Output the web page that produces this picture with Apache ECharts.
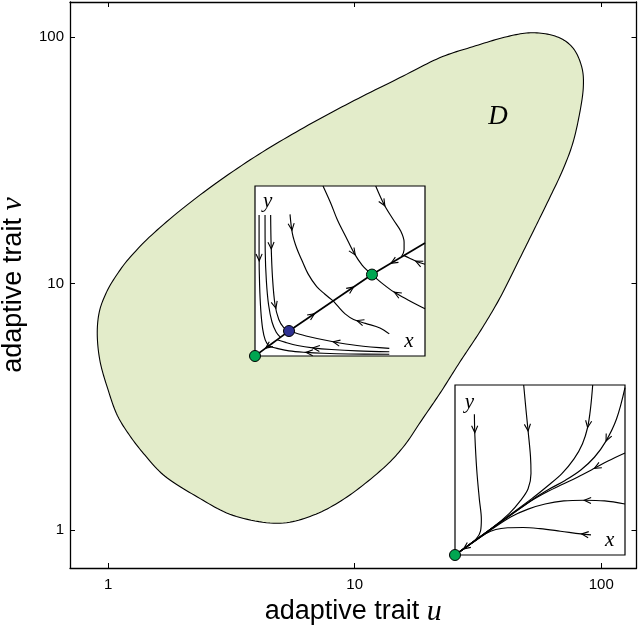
<!DOCTYPE html>
<html><head><meta charset="utf-8">
<script src="https://cdn.jsdelivr.net/npm/echarts@6/dist/echarts.min.js"></script>
<style>html,body{margin:0;padding:0;background:#fff}#c{width:644px;height:627px}</style>
</head><body><div id="c"></div>
<script>
// ---- main plot: region D in (u, v) trait space ----
const axisMin = 0.7, axisMax = 139;
const blobU = [52.7,66.0,76.7,83.3,84.6,81.8,76.7,69.8,61.8,53.8,45.9,38.8,32.5,26.7,22.2,18.7,15.8,12.9,9.30,6.77,4.84,3.21,2.30,1.70,1.41,1.228,1.088,1.0,0.928,0.903,0.920,0.981,1.067,1.228,1.58,2.36,3.77,6.0,9.56,15.2,22.1,30.1,41.4];
const blobV = [104.3,100.5,90.6,75.9,62.9,49.3,37.2,28.9,22.3,16.8,12.2,8.73,6.47,4.80,3.59,2.79,2.18,1.76,1.36,1.145,1.063,1.145,1.36,1.65,2.01,2.40,2.92,3.69,4.80,6.18,7.66,9.15,10.6,12.8,16.5,22.9,31.8,42.1,54.2,68.4,82.5,91.5,100.5];
const labelD = [38.1, 47.5];

// ---- inset A (phase portrait inside D), normalised x,y ----
const aDiagLow  = [[0.2,0.147],[0.1,0.0735],[0,0]];
const aDiagMid  = [[0.2,0.147],[0.688,0.479]];
const aDiagHigh = [[1.0,0.665],[0.688,0.479]];
const aTop1 = [[0.024,0.83],[0.024,0.6],[0.027,0.42],[0.034,0.27],[0.045,0.16],[0.06,0.095],[0.08,0.06]];
const aTop2 = [[0.059,0.83],[0.06,0.62],[0.067,0.44],[0.08,0.3],[0.1,0.2],[0.125,0.14],[0.15,0.11]];
const aTop3 = [[0.092,0.83],[0.095,0.65],[0.103,0.46],[0.118,0.3],[0.14,0.215],[0.168,0.168],[0.2,0.147]];
const aTop4 = [[0.206,0.833],[0.22,0.72],[0.245,0.635],[0.275,0.565],[0.314,0.48],[0.363,0.408],[0.41,0.365],[0.46,0.324]];
const aMidR = [[0.79,0.13],[0.735,0.165],[0.65,0.192],[0.58,0.215],[0.53,0.248],[0.49,0.29],[0.46,0.324]];
const aTop5 = [[0.40,1.0],[0.445,0.9],[0.485,0.8],[0.535,0.7],[0.583,0.605],[0.63,0.535],[0.688,0.479]];
const aTop6 = [[0.71,1.0],[0.76,0.89],[0.815,0.8],[0.857,0.735],[0.877,0.67],[0.877,0.625],[0.862,0.585]];
const aRight1 = [[1.0,0.54],[0.95,0.556],[0.91,0.575],[0.875,0.592]];
const aRight2 = [[1.0,0.278],[0.9,0.33],[0.818,0.376],[0.75,0.426],[0.688,0.479]];
const aBot1 = [[0.79,0.045],[0.6,0.062],[0.46,0.084],[0.3,0.118],[0.2,0.147]];
const aBot2 = [[0.79,0.025],[0.6,0.03],[0.45,0.038],[0.34,0.048],[0.25,0.062],[0.18,0.08],[0.13,0.096]];
const aBot3 = [[0.79,0.01],[0.55,0.012],[0.4,0.016],[0.3,0.021],[0.2,0.03],[0.13,0.045],[0.08,0.059]];
const aCurves = [aDiagLow,aDiagMid,aDiagHigh,aTop1,aTop2,aTop3,aTop4,aMidR,aTop5,aTop6,aRight1,aRight2,aBot1,aBot2,aBot3];
const aThick = [true,true,true];
// arrows: [x, y, curve index]
const aArrows = [[0.062,0.046,0],[0.35,0.249,1],[0.58,0.405,1],[0.8,0.546,2],[0.024,0.56,3],[0.097,0.63,5],[0.12,0.28,5],
  [0.218,0.74,6],[0.6,0.208,7],[0.59,0.595,8],[0.765,0.884,9],[0.945,0.557,10],[0.82,0.375,11],[0.46,0.085,12],[0.34,0.048,13],[0.3,0.021,14]];
const aStable = [[0,0],[0.688,0.479]];
const aSaddle = [[0.2,0.147]];
const aText = [[0.075,0.91],[0.905,0.085]];
const aTextLabels = ['y','x'];

// ---- inset B (phase portrait outside D) ----
const bC1 = [[0.114,0.828],[0.117,0.7],[0.128,0.5],[0.143,0.33],[0.155,0.21],[0.15,0.14],[0.125,0.095],[0.07,0.05],[0,0]];
const bC2 = [[0.404,1.0],[0.418,0.85],[0.431,0.72],[0.444,0.58],[0.447,0.48],[0.43,0.39],[0.385,0.32],[0.32,0.245],[0.22,0.16],[0,0]];
const bC3 = [[0.81,1.0],[0.797,0.86],[0.78,0.75],[0.75,0.655],[0.7,0.565],[0.63,0.48],[0.55,0.41],[0.45,0.33],[0,0]];
const bC4 = [[1.0,0.985],[0.95,0.8],[0.888,0.67],[0.82,0.575],[0.74,0.5],[0.65,0.44],[0.55,0.385],[0.45,0.322],[0,0]];
const bC5 = [[1.0,0.6],[0.9,0.553],[0.82,0.51],[0.72,0.458],[0.62,0.41],[0.52,0.36],[0.42,0.3],[0,0]];
const bC6 = [[1.0,0.3],[0.88,0.318],[0.76,0.322],[0.64,0.318],[0.53,0.3],[0.43,0.27],[0.33,0.225],[0.2,0.14],[0,0]];
const bC7 = [[0.8,0.118],[0.74,0.124],[0.62,0.14],[0.5,0.155],[0.4,0.162],[0.31,0.16],[0.24,0.15],[0.18,0.125],[0.1,0.07],[0,0]];
const bCurves = [bC1,bC2,bC3,bC4,bC5,bC6,bC7];
const bArrows = [[0.116,0.72,0],[0.43,0.73,1],[0.78,0.75,2],[0.89,0.67,3],[0.82,0.51,4],[0.76,0.322,5],[0.745,0.124,6],[0.05,0.036,3]];
const bStable = [[0,0]];
const bText = [[0.085,0.895],[0.91,0.085]];
const bTextLabels = ['y','x'];

const GREEN = '#00a651', BLUE = '#2e3192', FILL = '#e3ecca';
const serifItalic = 'italic 21px "Liberation Serif", serif';
const A = 2, B = 3; // axis indices of the two insets

function mainAxis(pos, labels) {
  return {
    type: 'log', logBase: 10, min: axisMin, max: axisMax, gridIndex: 0, position: pos,
    axisLine: { show: true, lineStyle: { color: '#000', width: 1.3 } },
    axisTick: { show: true, inside: true, length: 5, lineStyle: { color: '#000', width: 1 } },
    axisLabel: { show: labels, color: '#000', fontSize: 15, fontFamily: '"Liberation Sans", Arial, sans-serif',
      showMinLabel: false, showMaxLabel: false, margin: pos === 'bottom' ? 9 : 6 },
    splitLine: { show: false }, minorTick: { show: false }, minorSplitLine: { show: false }
  };
}
function insetAxis(g) {
  return { type: 'value', min: 0, max: 1, gridIndex: g, show: false };
}
const nameRich = {
  a: { fontFamily: '"Liberation Sans", Arial, sans-serif', fontSize: 27, color: '#000' },
  b: { fontFamily: '"Liberation Serif", serif', fontStyle: 'italic', fontSize: 30, color: '#000' }
};

// closed Catmull-Rom through pixel points (drawing helper only)
function closedSpline(pts, seg) {
  const n = pts.length, out = [];
  for (let i = 0; i < n; i++) {
    const p0 = pts[(i - 1 + n) % n], p1 = pts[i], p2 = pts[(i + 1) % n], p3 = pts[(i + 2) % n];
    for (let k = 0; k < seg; k++) {
      const t = k / seg, t2 = t * t, t3 = t2 * t;
      const f = j => 0.5 * (2 * p1[j] + (-p0[j] + p2[j]) * t + (2 * p0[j] - 5 * p1[j] + 4 * p2[j] - p3[j]) * t2 + (-p0[j] + 3 * p1[j] - 3 * p2[j] + p3[j]) * t3);
      out.push([f(0), f(1)]);
    }
  }
  return out;
}

function arrowRender(curves) {
  return function (params, api) {
    const x = api.value(0), y = api.value(1), ci = api.value(2);
    const pts = curves[ci].map(p => api.coord(p));
    const t = api.coord([x, y]);
    let best = null, bd = Infinity;
    for (let i = 0; i < pts.length - 1; i++) {
      const a = pts[i], b = pts[i + 1];
      const dx = b[0] - a[0], dy = b[1] - a[1];
      const L2 = dx * dx + dy * dy; if (!L2) continue;
      let s = ((t[0] - a[0]) * dx + (t[1] - a[1]) * dy) / L2;
      s = Math.max(0, Math.min(1, s));
      const px = a[0] + s * dx, py = a[1] + s * dy;
      const d = (px - t[0]) ** 2 + (py - t[1]) ** 2;
      if (d < bd) { bd = d; const n = Math.sqrt(L2); best = { px, py, ux: dx / n, uy: dy / n }; }
    }
    const L = 7.5, ang = 0.42, c = Math.cos(ang), s = Math.sin(ang);
    const bx = -best.ux, by = -best.uy, px = best.px, py = best.py;
    const l1 = [px + L * (bx * c - by * s), py + L * (bx * s + by * c)];
    const l2 = [px + L * (bx * c + by * s), py + L * (-bx * s + by * c)];
    return { type: 'polyline', shape: { points: [l1, [px, py], l2] },
      style: { stroke: '#000', lineWidth: 1.1, fill: null } };
  };
}
function textRender(labels, font) {
  return function (params, api) {
    const p = api.coord([api.value(0), api.value(1)]);
    return { type: 'text', x: p[0], y: p[1],
      style: { text: labels[params.dataIndex], font: font, fill: '#000', align: 'center', verticalAlign: 'middle' } };
  };
}
function curveSeries(curves, idx, thickFlags) {
  return curves.map((c, i) => ({
    type: 'line', xAxisIndex: idx, yAxisIndex: idx, data: c, smooth: 0.35, showSymbol: false, symbol: 'none',
    clip: false, z: 5, silent: true,
    lineStyle: { color: '#000', width: thickFlags && thickFlags[i] ? 1.7 : 1.15 }
  }));
}
function dotSeries(data, idx, color) {
  return { type: 'scatter', xAxisIndex: idx, yAxisIndex: idx, data: data, symbolSize: 11, clip: false, z: 7,
    itemStyle: { color: color, borderColor: '#000', borderWidth: 1, opacity: 1 } };
}

const option = {
  animation: false,
  backgroundColor: '#fff',
  grid: [
    { left: 70, right: 7.5, top: 2, bottom: 59, outerBoundsMode: 'none', containLabel: false },
    { left: 255, top: 186, width: 170, height: 170, show: true, backgroundColor: '#fff', borderColor: '#000', borderWidth: 1.2, z: 3, outerBoundsMode: 'none' },
    { left: 455, top: 385, width: 170, height: 170, show: true, backgroundColor: '#fff', borderColor: '#000', borderWidth: 1.2, z: 3, outerBoundsMode: 'none' }
  ],
  xAxis: [
    Object.assign(mainAxis('bottom', true), { name: '{a|adaptive trait }{b|u}', nameLocation: 'middle', nameGap: 23, nameTextStyle: { rich: nameRich } }),
    mainAxis('top', false),
    insetAxis(1), insetAxis(2)
  ],
  yAxis: [
    Object.assign(mainAxis('left', true), { name: '{a|adaptive trait }{b|v}', nameLocation: 'middle', nameGap: 37, nameTextStyle: { rich: nameRich } }),
    mainAxis('right', false),
    insetAxis(1), insetAxis(2)
  ],
  series: [
    { type: 'custom', xAxisIndex: 0, yAxisIndex: 0, z: 1, silent: true, data: [[blobU[0], blobV[0]]],
      renderItem: function (params, api) {
        const pts = blobU.map((u, i) => api.coord([u, blobV[i]]));
        return { type: 'polygon', shape: { points: closedSpline(pts, 12) }, style: { fill: FILL, stroke: '#000', lineWidth: 1.1 } };
      } },
    { type: 'custom', xAxisIndex: 0, yAxisIndex: 0, z: 2, silent: true, data: [labelD],
      renderItem: textRender(['D'], 'italic 27px "Liberation Serif", serif') },
    ...curveSeries(aCurves, A, aThick),
    { type: 'custom', xAxisIndex: A, yAxisIndex: A, z: 6, silent: true, data: aArrows, renderItem: arrowRender(aCurves) },
    dotSeries(aStable, A, GREEN), dotSeries(aSaddle, A, BLUE),
    { type: 'custom', xAxisIndex: A, yAxisIndex: A, z: 6, silent: true, data: aText, renderItem: textRender(aTextLabels, serifItalic) },
    ...curveSeries(bCurves, B, null),
    { type: 'custom', xAxisIndex: B, yAxisIndex: B, z: 6, silent: true, data: bArrows, renderItem: arrowRender(bCurves) },
    dotSeries(bStable, B, GREEN),
    { type: 'custom', xAxisIndex: B, yAxisIndex: B, z: 6, silent: true, data: bText, renderItem: textRender(bTextLabels, serifItalic) }
  ]
};
const chart = echarts.init(document.getElementById('c'), null, { renderer: 'canvas' });
chart.setOption(option);
</script></body></html>
